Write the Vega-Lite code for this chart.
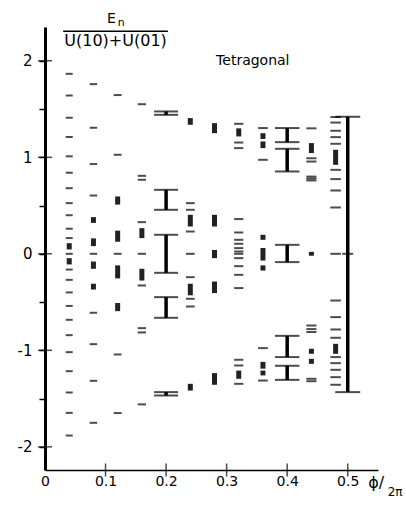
{
  "$schema": "https://vega.github.io/schema/vega-lite/v6.json",
  "width": 333,
  "height": 443,
  "autosize": {"type": "none"},
  "padding": {"left": 45, "top": 27, "right": 28, "bottom": 36},
  "background": "white",
  "config": {"view": {"stroke": null}, "font": "DejaVu Sans", "text": {"font": "DejaVu Sans", "color": "black"}},
  "resolve": {"scale": {"size": "independent"}},
  "datasets": {
    "levels": [
      {"phi": 0.04, "E": 1.865}, {"phi": 0.04, "E": 1.64}, {"phi": 0.04, "E": 1.41}, {"phi": 0.04, "E": 1.21},
      {"phi": 0.04, "E": 1.01}, {"phi": 0.04, "E": 0.84}, {"phi": 0.04, "E": 0.68}, {"phi": 0.04, "E": 0.525},
      {"phi": 0.04, "E": 0.4}, {"phi": 0.04, "E": 0.26}, {"phi": 0.04, "E": 0.163}, {"phi": 0.04, "E": 0},
      {"phi": 0.04, "E": -0.163}, {"phi": 0.04, "E": -0.27}, {"phi": 0.04, "E": -0.4}, {"phi": 0.04, "E": -0.54},
      {"phi": 0.04, "E": -0.684}, {"phi": 0.04, "E": -0.843}, {"phi": 0.04, "E": -1.019}, {"phi": 0.04, "E": -1.216},
      {"phi": 0.04, "E": -1.437}, {"phi": 0.04, "E": -1.648}, {"phi": 0.04, "E": -1.883},
      {"phi": 0.08, "E": 1.758}, {"phi": 0.08, "E": 1.306}, {"phi": 0.08, "E": 0.93}, {"phi": 0.08, "E": 0.604},
      {"phi": 0.08, "E": 0}, {"phi": 0.08, "E": -0.611}, {"phi": 0.08, "E": -0.936}, {"phi": 0.08, "E": -1.316},
      {"phi": 0.08, "E": -1.751},
      {"phi": 0.12, "E": 1.645}, {"phi": 0.12, "E": 1.026}, {"phi": 0.12, "E": 0}, {"phi": 0.12, "E": -1.043},
      {"phi": 0.12, "E": -1.65},
      {"phi": 0.16, "E": 1.55}, {"phi": 0.16, "E": 0.808}, {"phi": 0.16, "E": 0.767}, {"phi": 0.16, "E": 0.328},
      {"phi": 0.16, "E": 0}, {"phi": 0.16, "E": -0.328}, {"phi": 0.16, "E": -0.77}, {"phi": 0.16, "E": -0.815},
      {"phi": 0.16, "E": -1.56},
      {"phi": 0.24, "E": 0.525}, {"phi": 0.24, "E": 0.456}, {"phi": 0.24, "E": 0.231}, {"phi": 0.24, "E": 0},
      {"phi": 0.24, "E": -0.242}, {"phi": 0.24, "E": -0.466}, {"phi": 0.24, "E": -0.546},
      {"phi": 0.32, "E": 1.347}, {"phi": 0.32, "E": 1.153}, {"phi": 0.32, "E": 1.095}, {"phi": 0.32, "E": 0.36},
      {"phi": 0.32, "E": 0.221}, {"phi": 0.32, "E": 0.145}, {"phi": 0.32, "E": 0.104}, {"phi": 0.32, "E": 0.059},
      {"phi": 0.32, "E": 0.024}, {"phi": 0.32, "E": 0}, {"phi": 0.32, "E": -0.045}, {"phi": 0.32, "E": -0.128},
      {"phi": 0.32, "E": -0.218}, {"phi": 0.32, "E": -0.355}, {"phi": 0.32, "E": -1.098}, {"phi": 0.32, "E": -1.157},
      {"phi": 0.32, "E": -1.347},
      {"phi": 0.36, "E": 1.303}, {"phi": 0.36, "E": 0.974}, {"phi": 0.36, "E": -0.977}, {"phi": 0.36, "E": -1.313},
      {"phi": 0.44, "E": 1.3}, {"phi": 0.44, "E": 0.99}, {"phi": 0.44, "E": 0.956}, {"phi": 0.44, "E": 0.8},
      {"phi": 0.44, "E": 0.78}, {"phi": 0.44, "E": 0.76}, {"phi": 0.44, "E": -0.743}, {"phi": 0.44, "E": -0.78},
      {"phi": 0.44, "E": -0.81}, {"phi": 0.44, "E": -1.295}, {"phi": 0.44, "E": -1.32},
      {"phi": 0.48, "E": 1.417}, {"phi": 0.48, "E": 1.36}, {"phi": 0.48, "E": 1.275}, {"phi": 0.48, "E": 1.209},
      {"phi": 0.48, "E": 1.14}, {"phi": 0.48, "E": 0.87}, {"phi": 0.48, "E": 0.774}, {"phi": 0.48, "E": 0.656},
      {"phi": 0.48, "E": 0.48}, {"phi": 0.48, "E": 0}, {"phi": 0.48, "E": -0.484}, {"phi": 0.48, "E": -0.656},
      {"phi": 0.48, "E": -0.784}, {"phi": 0.48, "E": -0.87}, {"phi": 0.48, "E": -1.07}, {"phi": 0.48, "E": -1.133},
      {"phi": 0.48, "E": -1.202}, {"phi": 0.48, "E": -1.278}, {"phi": 0.48, "E": -1.357},
      {"phi": 0.5, "E": 0}
    ],
    "clusters": [
      {"phi": 0.04, "lo": 0.045, "hi": 0.11}, {"phi": 0.04, "lo": -0.11, "hi": -0.045},
      {"phi": 0.08, "lo": 0.32, "hi": 0.38}, {"phi": 0.08, "lo": -0.37, "hi": -0.31},
      {"phi": 0.08, "lo": 0.08, "hi": 0.16}, {"phi": 0.08, "lo": -0.155, "hi": -0.08},
      {"phi": 0.12, "lo": 0.51, "hi": 0.594}, {"phi": 0.12, "lo": -0.594, "hi": -0.51},
      {"phi": 0.12, "lo": 0.125, "hi": 0.24}, {"phi": 0.12, "lo": -0.255, "hi": -0.12},
      {"phi": 0.16, "lo": 0.163, "hi": 0.266}, {"phi": 0.16, "lo": -0.277, "hi": -0.155},
      {"phi": 0.24, "lo": 1.337, "hi": 1.406}, {"phi": 0.24, "lo": 0.283, "hi": 0.404},
      {"phi": 0.24, "lo": -0.43, "hi": -0.31}, {"phi": 0.24, "lo": -1.417, "hi": -1.347},
      {"phi": 0.28, "lo": 1.25, "hi": 1.354}, {"phi": 0.28, "lo": 0.283, "hi": 0.404},
      {"phi": 0.28, "lo": -0.045, "hi": 0.04}, {"phi": 0.28, "lo": -0.407, "hi": -0.287},
      {"phi": 0.28, "lo": -1.357, "hi": -1.236},
      {"phi": 0.32, "lo": 1.216, "hi": 1.3}, {"phi": 0.32, "lo": -1.295, "hi": -1.21},
      {"phi": 0.36, "lo": 1.19, "hi": 1.25}, {"phi": 0.36, "lo": 1.095, "hi": 1.164},
      {"phi": 0.36, "lo": 0.145, "hi": 0.197}, {"phi": 0.36, "lo": -0.07, "hi": 0.06},
      {"phi": 0.36, "lo": -0.173, "hi": -0.12}, {"phi": 0.36, "lo": -1.19, "hi": -1.12},
      {"phi": 0.36, "lo": -1.26, "hi": -1.21},
      {"phi": 0.44, "lo": 1.044, "hi": 1.147}, {"phi": 0.44, "lo": -0.02, "hi": 0.02},
      {"phi": 0.44, "lo": -1.036, "hi": -0.984}, {"phi": 0.44, "lo": -1.14, "hi": -1.088},
      {"phi": 0.48, "lo": 0.922, "hi": 1.078}, {"phi": 0.48, "lo": -1.036, "hi": -0.933}
    ],
    "bands": [
      {"phi": 0.2, "lo": 1.44, "hi": 1.475}, {"phi": 0.2, "lo": 0.456, "hi": 0.663},
      {"phi": 0.2, "lo": -0.197, "hi": 0.197}, {"phi": 0.2, "lo": -0.663, "hi": -0.449},
      {"phi": 0.2, "lo": -1.468, "hi": -1.433},
      {"phi": 0.4, "lo": 1.157, "hi": 1.303}, {"phi": 0.4, "lo": 0.853, "hi": 1.088},
      {"phi": 0.4, "lo": -0.086, "hi": 0.093}, {"phi": 0.4, "lo": -1.07, "hi": -0.85},
      {"phi": 0.4, "lo": -1.306, "hi": -1.16},
      {"phi": 0.5, "lo": -1.433, "hi": 1.42}
    ],
    "yMajor": [{"E": -2}, {"E": -1}, {"E": 0}, {"E": 1}, {"E": 2}],
    "xMajor": [{"phi": 0.1}, {"phi": 0.2}, {"phi": 0.3}, {"phi": 0.4}, {"phi": 0.5}]
  },
  "layer": [
    {
      "data": {"name": "levels"},
      "mark": {"type": "tick", "orient": "horizontal", "thickness": 2, "color": "black"},
      "encoding": {
        "x": {"field": "phi", "type": "quantitative", "scale": {"domain": [0, 0.55], "nice": false, "zero": false},
          "axis": {"values": [0, 0.1, 0.2, 0.3, 0.4, 0.5], "format": ".1~f", "ticks": false, "domainWidth": 1.5, "domainColor": "black",
            "labelFontSize": 14, "labelColor": "black", "labelPadding": 4, "labelFlush": false, "labelOverlap": false, "grid": false, "title": null, "labelFont": "DejaVu Sans"}},
        "y": {"field": "E", "type": "quantitative", "scale": {"domain": [-2.24, 2.35], "nice": false, "zero": false},
          "axis": {"values": [-2, -1.5, -1, -0.5, 0, 0.5, 1, 1.5, 2],
            "labelExpr": "datum.value % 1 === 0 ? (datum.value < 0 ? '-' + abs(datum.value) : '' + abs(datum.value)) : ''",
            "tickSize": 6, "tickWidth": 1.5, "tickColor": "black", "domainWidth": 3, "domainColor": "black",
            "labelFontSize": 15, "labelColor": "black", "labelPadding": 7, "labelOverlap": false, "labelFlush": false, "grid": false, "title": null, "labelFont": "DejaVu Sans"}},
        "size": {"field": "phi", "type": "ordinal",
          "scale": {"domain": [0.04, 0.08, 0.12, 0.16, 0.24, 0.32, 0.36, 0.44, 0.48, 0.5], "range": [7, 11, 13, 11, 7, 7, 8, 7, 7, 12]},
          "legend": null}
      }
    },
    {
      "data": {"name": "clusters"},
      "mark": {"type": "rule", "strokeWidth": 5, "strokeCap": "butt", "color": "#222"},
      "encoding": {
        "x": {"field": "phi", "type": "quantitative"},
        "y": {"field": "lo", "type": "quantitative"},
        "y2": {"field": "hi"}
      }
    },
    {
      "data": {"name": "bands"},
      "mark": {"type": "rule", "strokeWidth": 3.5, "strokeCap": "butt", "color": "black"},
      "encoding": {
        "x": {"field": "phi", "type": "quantitative"},
        "y": {"field": "lo", "type": "quantitative"},
        "y2": {"field": "hi"}
      }
    },
    {
      "data": {"name": "bands"},
      "transform": [{"fold": ["lo", "hi"], "as": ["end", "E"]}],
      "mark": {"type": "tick", "orient": "horizontal", "thickness": 2, "color": "black"},
      "encoding": {
        "x": {"field": "phi", "type": "quantitative"},
        "y": {"field": "E", "type": "quantitative"},
        "size": {"field": "phi", "type": "ordinal", "scale": {"domain": [0.2, 0.4, 0.5], "range": [24, 25, 28]}, "legend": null}
      }
    },
    {
      "data": {"name": "yMajor"},
      "mark": {"type": "tick", "orient": "horizontal", "thickness": 1.5, "size": 14, "color": "black"},
      "encoding": {
        "x": {"datum": 0, "type": "quantitative"},
        "y": {"field": "E", "type": "quantitative"}
      }
    },
    {
      "data": {"name": "xMajor"},
      "mark": {"type": "tick", "orient": "vertical", "thickness": 1.5, "size": 13, "color": "black"},
      "encoding": {
        "x": {"field": "phi", "type": "quantitative"},
        "y": {"datum": -2.24, "type": "quantitative"}
      }
    },
    {
      "data": {"values": [{}]},
      "mark": {"type": "text", "text": "Tetragonal", "fontSize": 14, "align": "left", "baseline": "alphabetic"},
      "encoding": {"x": {"datum": 0.2826, "type": "quantitative"}, "y": {"datum": 1.959, "type": "quantitative"}}
    },
    {
      "data": {"values": [{}]},
      "mark": {"type": "text", "text": "E", "fontSize": 14, "align": "left", "baseline": "alphabetic"},
      "encoding": {"x": {"datum": 0.1025, "type": "quantitative"}, "y": {"datum": 2.394, "type": "quantitative"}}
    },
    {
      "data": {"values": [{}]},
      "mark": {"type": "text", "text": "n", "fontSize": 11, "align": "left", "baseline": "alphabetic"},
      "encoding": {"x": {"datum": 0.12, "type": "quantitative"}, "y": {"datum": 2.363, "type": "quantitative"}}
    },
    {
      "data": {"values": [{}]},
      "mark": {"type": "rule", "strokeWidth": 1.5, "color": "black"},
      "encoding": {"x": {"datum": 0.03, "type": "quantitative"}, "x2": {"datum": 0.203}, "y": {"datum": 2.305, "type": "quantitative"}}
    },
    {
      "data": {"values": [{}]},
      "mark": {"type": "text", "text": "U(10)+U(01)", "fontSize": 16, "align": "center", "baseline": "middle"},
      "encoding": {"x": {"datum": 0.1165, "type": "quantitative"}, "y": {"datum": 2.2, "type": "quantitative"}}
    },
    {
      "data": {"values": [{}]},
      "mark": {"type": "text", "text": "ϕ/", "fontSize": 16, "align": "left", "baseline": "alphabetic"},
      "encoding": {"x": {"datum": 0.534, "type": "quantitative"}, "y": {"datum": -2.43, "type": "quantitative"}}
    },
    {
      "data": {"values": [{}]},
      "mark": {"type": "text", "text": "2π", "fontSize": 12, "align": "left", "baseline": "alphabetic"},
      "encoding": {"x": {"datum": 0.566, "type": "quantitative"}, "y": {"datum": -2.51, "type": "quantitative"}}
    }
  ]
}
